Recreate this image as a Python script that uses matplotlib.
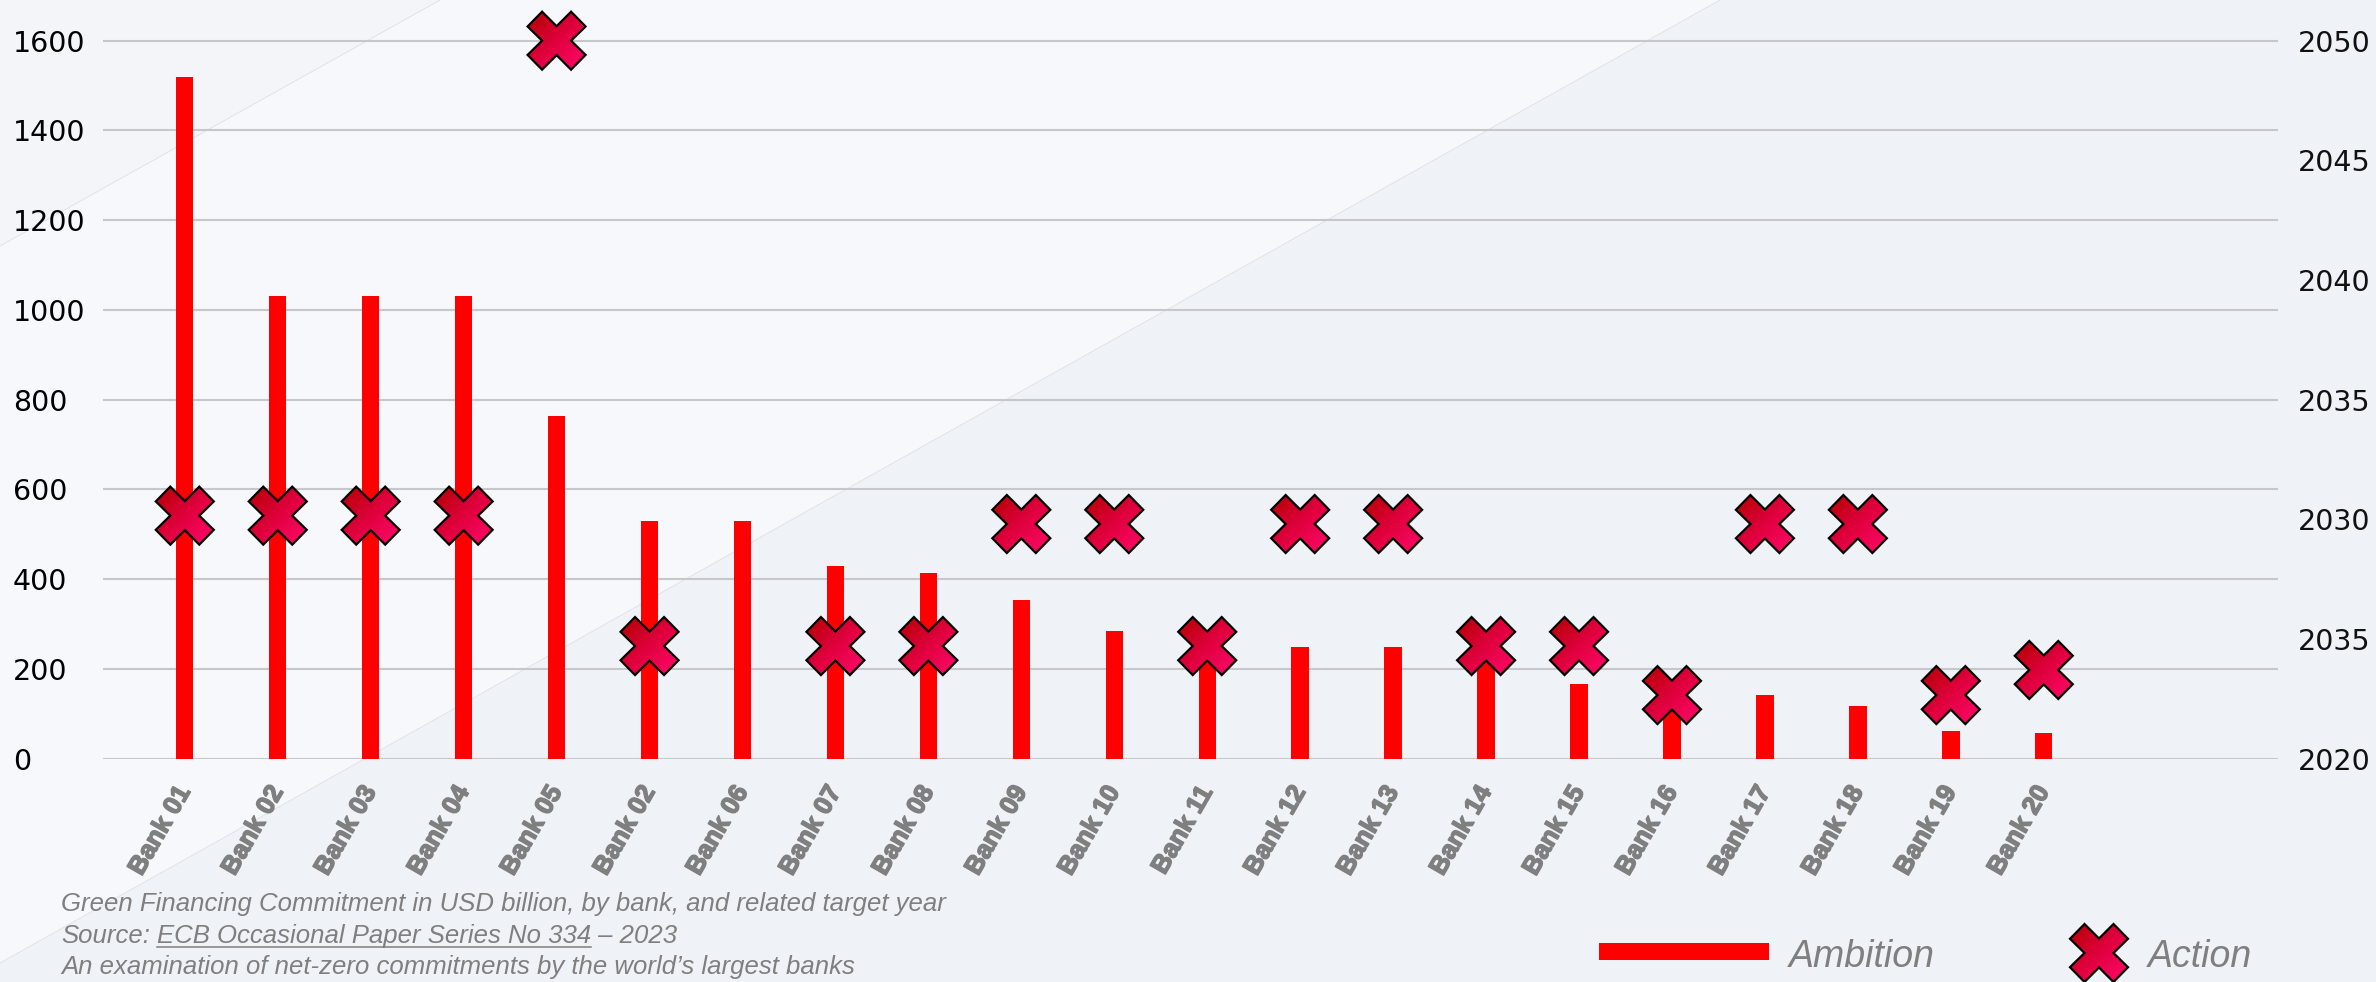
import numpy as np
import matplotlib
matplotlib.use("Agg")
import matplotlib.pyplot as plt
import matplotlib.patheffects as pe
from matplotlib.path import Path
from matplotlib.patches import PathPatch, Polygon, Rectangle
from matplotlib.transforms import Affine2D, ScaledTranslation
from matplotlib.colors import LinearSegmentedColormap
from matplotlib.lines import Line2D

# ---------------- data ----------------
banks = ["Bank 01", "Bank 02", "Bank 03", "Bank 04", "Bank 05", "Bank 02",
         "Bank 06", "Bank 07", "Bank 08", "Bank 09", "Bank 10", "Bank 11",
         "Bank 12", "Bank 13", "Bank 14", "Bank 15", "Bank 16", "Bank 17",
         "Bank 18", "Bank 19", "Bank 20"]
ambition_usd_bn = [1520, 1030, 1030, 1030, 763, 529, 529, 428, 414, 353, 284,
                   230, 249, 249, 222, 167, 125, 142, 117, 61, 56]
action_year = [2030.15, 2030.15, 2030.15, 2030.15, 2050.0, 2024.7, None,
               2024.7, 2024.7, 2029.8, 2029.8, 2024.7, 2029.8, 2029.8,
               2024.7, 2024.7, 2022.65, 2029.8, 2029.8, 2022.65, 2023.7]
left_ticks = [0, 200, 400, 600, 800, 1000, 1200, 1400, 1600]
right_ticks = [2020, 2025, 2030, 2035, 2040, 2045, 2050]
right_tick_labels = ["2020", "2035", "2030", "2035", "2040", "2045", "2050"]
legend_labels = ["Ambition", "Action"]
note_line1 = "Green Financing Commitment in USD billion, by bank, and related target year"
note_src_prefix = "Source:"
note_src_link = "ECB Occasional Paper Series No 334"
note_src_suffix = " \u2013 2023"
note_line3 = "An examination of net-zero commitments by the world\u2019s largest banks"

# ---------------- figure ----------------
W, H, DPI = 2376, 982, 100
fig = plt.figure(figsize=(W / DPI, H / DPI), dpi=DPI)
fig.patch.set_facecolor("#EFF2F7")


def fpx(x, y):
    return (x / W, 1 - y / H)


fig.add_artist(Polygon([fpx(0, 0), fpx(440, 0), fpx(0, 246)], closed=True,
                       transform=fig.transFigure, facecolor="#F3F5F9",
                       edgecolor="none", zorder=-6))
fig.add_artist(Polygon([fpx(440, 0), fpx(1720, 0), fpx(0, 963), fpx(0, 246)],
                       closed=True, transform=fig.transFigure, facecolor="#F6F8FB",
                       edgecolor="none", zorder=-5))
for (x0, y0, x1, y1) in [(440, 0, 0, 246), (1720, 0, 0, 963)]:
    a, b = fpx(x0, y0), fpx(x1, y1)
    fig.add_artist(Line2D([a[0], b[0]], [a[1], b[1]], transform=fig.transFigure,
                          color="#E0E3E8", lw=0.7, zorder=-4))

# axes geometry (pixels)
ax_left, ax_right, base_y, top_tick_y = 103, 2278, 758.5, 40.7
ax = fig.add_axes([ax_left / W, 1 - base_y / H, (ax_right - ax_left) / W, base_y / H])
ax.patch.set_visible(False)
ymax = left_ticks[-1] * base_y / (base_y - top_tick_y)
ax.set_ylim(0, ymax)
x = np.arange(len(banks))
ax.set_xlim(-0.88, 22.52)

ax.bar(x, ambition_usd_bn, width=0.187, color="#FF0000", zorder=2)

ax.set_axisbelow(True)
ax.set_yticks(left_ticks, [str(v) for v in left_ticks])
ax.yaxis.grid(True, color="#C6C7CB", lw=1.5)
for s in ax.spines.values():
    s.set_visible(False)
ax.tick_params(axis="y", length=0, pad=(ax_left - 13) / DPI * 72, labelsize=20.5,
               labelcolor="#000000")
plt.setp(ax.get_yticklabels(), ha="left", family="DejaVu Sans")

ax.set_xticks(x, banks)
ax.tick_params(axis="x", length=0, pad=21)
plt.setp(ax.get_xticklabels(), rotation=60, ha="right", va="center",
         rotation_mode="anchor", fontweight="bold", color="#7F7F7F",
         family="Liberation Sans", fontsize=18.5,
         path_effects=[pe.withStroke(linewidth=1.1, foreground="#7F7F7F")])

ax2 = ax.twinx()
ax2.patch.set_visible(False)
yr0, yr1 = right_ticks[0], right_ticks[-1]
ax2.set_ylim(yr0, yr0 + (yr1 - yr0) * ymax / left_ticks[-1])
ax2.set_xlim(ax.get_xlim())
ax2.set_yticks(right_ticks, right_tick_labels)
for s in ax2.spines.values():
    s.set_visible(False)
ax2.tick_params(axis="y", length=0, pad=14.4, labelsize=20.5, labelcolor="#111111")

# ---------------- gradient X marker ----------------
unit = [(0.5, 0.25), (0.75, 0.0), (1.0, 0.255), (0.75, 0.5), (1.0, 0.745),
        (0.75, 1.0), (0.5, 0.75), (0.25, 1.0), (0.0, 0.745), (0.25, 0.5),
        (0.0, 0.255), (0.25, 0.0)]
verts = np.array([(u - 0.5, 0.5 - v) for u, v in unit])
verts = np.vstack([verts, verts[:1]])
codes = [Path.MOVETO] + [Path.LINETO] * (len(unit) - 1) + [Path.CLOSEPOLY]
xpath = Path(verts, codes)
xcmap = LinearSegmentedColormap.from_list("xg", ["#B40000", "#E0003E", "#FF0A6C"])
n = 64
grad = np.add.outer(np.arange(n), np.arange(n)) / (2.0 * (n - 1))


def gradient_x(axes, px, py, transform, size_px=58):
    trans = Affine2D().scale(size_px) + ScaledTranslation(px, py, transform)
    edge = PathPatch(xpath, transform=trans, facecolor="none", edgecolor="black",
                     lw=1.6, zorder=6, clip_on=False)
    axes.add_artist(edge)
    edge.set_clip_on(False)
    im = axes.imshow(grad, cmap=xcmap, extent=(-0.5, 0.5, -0.5, 0.5), origin="upper",
                     transform=trans, interpolation="bilinear", aspect="auto", zorder=5)
    im.set_clip_path(edge)
    return im


for xi, yv in zip(x, action_year):
    if yv is not None:
        gradient_x(ax2, xi, yv, ax2.transData)

ax2.set_xlim(ax.get_xlim())
ax2.set_ylim(yr0, yr0 + (yr1 - yr0) * ymax / left_ticks[-1])

# ---------------- legend & notes (pixel overlay) ----------------
lax = fig.add_axes([0, 0, 1, 1])
lax.set_xlim(0, W)
lax.set_ylim(H, 0)
lax.axis("off")

lax.add_patch(Rectangle((1599, 943), 170, 17, facecolor="#FF0000", edgecolor="none"))
lax.text(1789, 967, legend_labels[0], fontsize=27, style="italic", color="#7F7F7F",
         family="Liberation Sans", va="baseline", ha="left")
gradient_x(lax, 2099, 953, lax.transData)
lax.set_xlim(0, W)
lax.set_ylim(H, 0)
lax.text(2148, 967, legend_labels[1], fontsize=27, style="italic", color="#7F7F7F",
         family="Liberation Sans", va="baseline", ha="left")

note_kw = dict(fontsize=18.5, style="italic", color="#7F7F7F", family="Liberation Sans",
               va="baseline", ha="left")
lax.text(61, 911, note_line1, **note_kw)
lax.text(61, 974, note_line3, **note_kw)
r = fig.canvas.get_renderer()
t1 = lax.text(61, 943, note_src_prefix, **note_kw)
bb1 = t1.get_window_extent(r)
gap = 7
t2 = fig.text((bb1.x1 + gap) / W, 1 - 943 / H, note_src_link, **note_kw)
bb2 = t2.get_window_extent(r)
fig.text(bb2.x1 / W, 1 - 943 / H, note_src_suffix, **note_kw)
lax.plot([bb2.x0, bb2.x1], [946.5, 946.5], color="#7F7F7F", lw=1.1)
lax.set_xlim(0, W)
lax.set_ylim(H, 0)

fig.savefig("out.png", dpi=DPI, facecolor=fig.get_facecolor())
